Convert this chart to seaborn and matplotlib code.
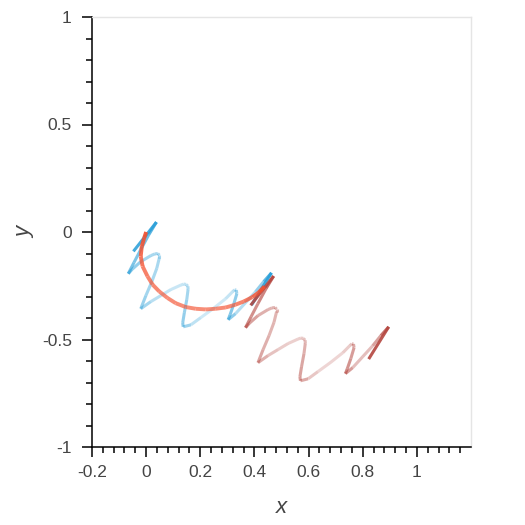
import matplotlib
matplotlib.use("Agg")
import matplotlib.pyplot as plt
import matplotlib.colors as mcolors
import seaborn as sns
import pandas as pd

# Blue coil (data units)
blue_x = [-0.047, 0.038, 0.010, -0.020, -0.045, -0.066, -0.053, -0.020, 0.017, 0.032,
          0.043, 0.049, 0.049, 0.039, 0.021, -0.001, -0.020, 0.017, 0.054, 0.091,
          0.128, 0.139, 0.148, 0.154, 0.155, 0.150, 0.141, 0.135, 0.137, 0.165,
          0.201, 0.249, 0.294, 0.319, 0.327, 0.333, 0.335, 0.323, 0.310, 0.303,
          0.330, 0.367, 0.404, 0.434, 0.463, 0.389]
blue_y = [-0.090, 0.046, -0.012, -0.082, -0.142, -0.194, -0.175, -0.138, -0.110, -0.102,
          -0.100, -0.108, -0.119, -0.170, -0.231, -0.296, -0.357, -0.324, -0.296, -0.268,
          -0.247, -0.242, -0.244, -0.252, -0.266, -0.315, -0.376, -0.423, -0.441, -0.432,
          -0.399, -0.355, -0.310, -0.278, -0.269, -0.270, -0.287, -0.338, -0.385, -0.408,
          -0.380, -0.329, -0.278, -0.231, -0.190, -0.340]

# Red coil
red_x = [0.386, 0.471, 0.443, 0.413, 0.388, 0.367, 0.380, 0.413, 0.450, 0.465,
         0.476, 0.482, 0.482, 0.472, 0.454, 0.432, 0.413, 0.450, 0.487, 0.524,
         0.561, 0.572, 0.581, 0.587, 0.588, 0.583, 0.574, 0.568, 0.570, 0.598,
         0.634, 0.682, 0.727, 0.752, 0.760, 0.766, 0.768, 0.756, 0.743, 0.736,
         0.763, 0.800, 0.837, 0.867, 0.896, 0.822]
red_y = [-0.341, -0.205, -0.263, -0.333, -0.393, -0.445, -0.426, -0.389, -0.361, -0.353,
         -0.351, -0.359, -0.370, -0.421, -0.482, -0.547, -0.608, -0.575, -0.547, -0.519,
         -0.498, -0.493, -0.495, -0.503, -0.517, -0.566, -0.627, -0.674, -0.692, -0.683,
         -0.650, -0.606, -0.561, -0.529, -0.520, -0.521, -0.538, -0.589, -0.636, -0.659,
         -0.631, -0.580, -0.529, -0.482, -0.441, -0.591]

# opacity at each vertex of the coils
coil_alpha = [0.9, 0.85, 0.7, 0.6, 0.6, 0.65, 0.55, 0.45, 0.4, 0.4,
              0.4, 0.4, 0.4, 0.4, 0.4, 0.45, 0.5, 0.35, 0.3, 0.25,
              0.25, 0.27, 0.3, 0.35, 0.4, 0.45, 0.5, 0.5, 0.55, 0.35,
              0.25, 0.2, 0.25, 0.3, 0.35, 0.4, 0.5, 0.55, 0.6, 0.65,
              0.4, 0.3, 0.4, 0.6, 0.9, 0.9]

# Orange arc
arc_x = [0.0, -0.007, -0.016, -0.020, -0.013, 0.005, 0.024, 0.048, 0.079, 0.109,
         0.146, 0.183, 0.220, 0.257, 0.294, 0.330, 0.361, 0.392, 0.416, 0.437]
arc_y = [0.0, -0.027, -0.066, -0.113, -0.160, -0.206, -0.245, -0.276, -0.307, -0.331,
         -0.349, -0.357, -0.360, -0.357, -0.351, -0.338, -0.323, -0.303, -0.281, -0.253]
arc_alpha = [0.95, 0.9, 0.85, 0.8, 0.75, 0.7, 0.68, 0.66, 0.65, 0.65,
             0.65, 0.65, 0.65, 0.65, 0.66, 0.68, 0.72, 0.78, 0.85, 0.95]

x_ticks = [-0.2, 0, 0.2, 0.4, 0.6, 0.8, 1]
x_labels = ["-0.2", "0", "0.2", "0.4", "0.6", "0.8", "1"]
y_ticks = [-1, -0.5, 0, 0.5, 1]
y_labels = ["-1", "-0.5", "0", "0.5", "1"]


def segments(name, xs, ys, alphas, color):
    # one two-row piece per segment so every piece gets its own opacity
    rows, pal = [], {}
    base = mcolors.to_rgb(color)
    for i in range(len(xs) - 1):
        key = f"{name}{i:02d}"
        rows.append({"x": xs[i], "y": ys[i], "seg": key})
        rows.append({"x": xs[i + 1], "y": ys[i + 1], "seg": key})
        pal[key] = (*base, (alphas[i] + alphas[i + 1]) / 2)
    return pd.DataFrame(rows), pal


sns.set_theme(style="white")
plt.rcParams["font.family"] = ["Liberation Sans", "DejaVu Sans"]

fig = plt.figure(figsize=(5.25, 5.25), dpi=100)
ax = fig.add_axes([92 / 525, 78 / 525, 379 / 525, 430 / 525])

for name, xs, ys, al, col, lw in [
    ("b", blue_x, blue_y, coil_alpha, "#2a9fd8", 2.2),
    ("r", red_x, red_y, coil_alpha, "#b4463f", 2.2),
    ("o", arc_x, arc_y, arc_alpha, "#f4502f", 2.8),
]:
    df, pal = segments(name, xs, ys, al, col)
    sns.lineplot(data=df, x="x", y="y", hue="seg", palette=pal, sort=False,
                 estimator=None, legend=False, lw=lw, ax=ax,
                 solid_capstyle="butt")

ax.set_xlim(-0.2, 1.2)
ax.set_ylim(-1, 1)
ax.set_xticks(x_ticks, x_labels)
ax.set_yticks(y_ticks, y_labels)
ax.set_xticks([round(-0.2 + 0.04 * i, 2) for i in range(35)], minor=True)
ax.set_yticks([round(-1 + 0.1 * i, 1) for i in range(21)], minor=True)

ax.tick_params(which="major", direction="out", length=7, width=1.1,
               color="black", labelcolor="#444444", labelsize=12.5)
ax.tick_params(axis="x", which="major", pad=6)
ax.tick_params(axis="y", which="major", pad=7.5)
ax.tick_params(which="minor", direction="out", length=4.3, width=1.1, color="black")
ax.tick_params(bottom=True, left=True, which="both")

for side in ["left", "bottom"]:
    ax.spines[side].set_color("black")
    ax.spines[side].set_linewidth(1.1)
for side in ["top", "right"]:
    ax.spines[side].set_color("#e5e5e5")
    ax.spines[side].set_linewidth(1.0)

ax.set_xlabel("x", fontsize=16, fontstyle="italic", color="#444444", labelpad=12)
ax.set_ylabel("y", fontsize=16, fontstyle="italic", color="#444444", labelpad=5)

fig.savefig("out.png", dpi=100)
